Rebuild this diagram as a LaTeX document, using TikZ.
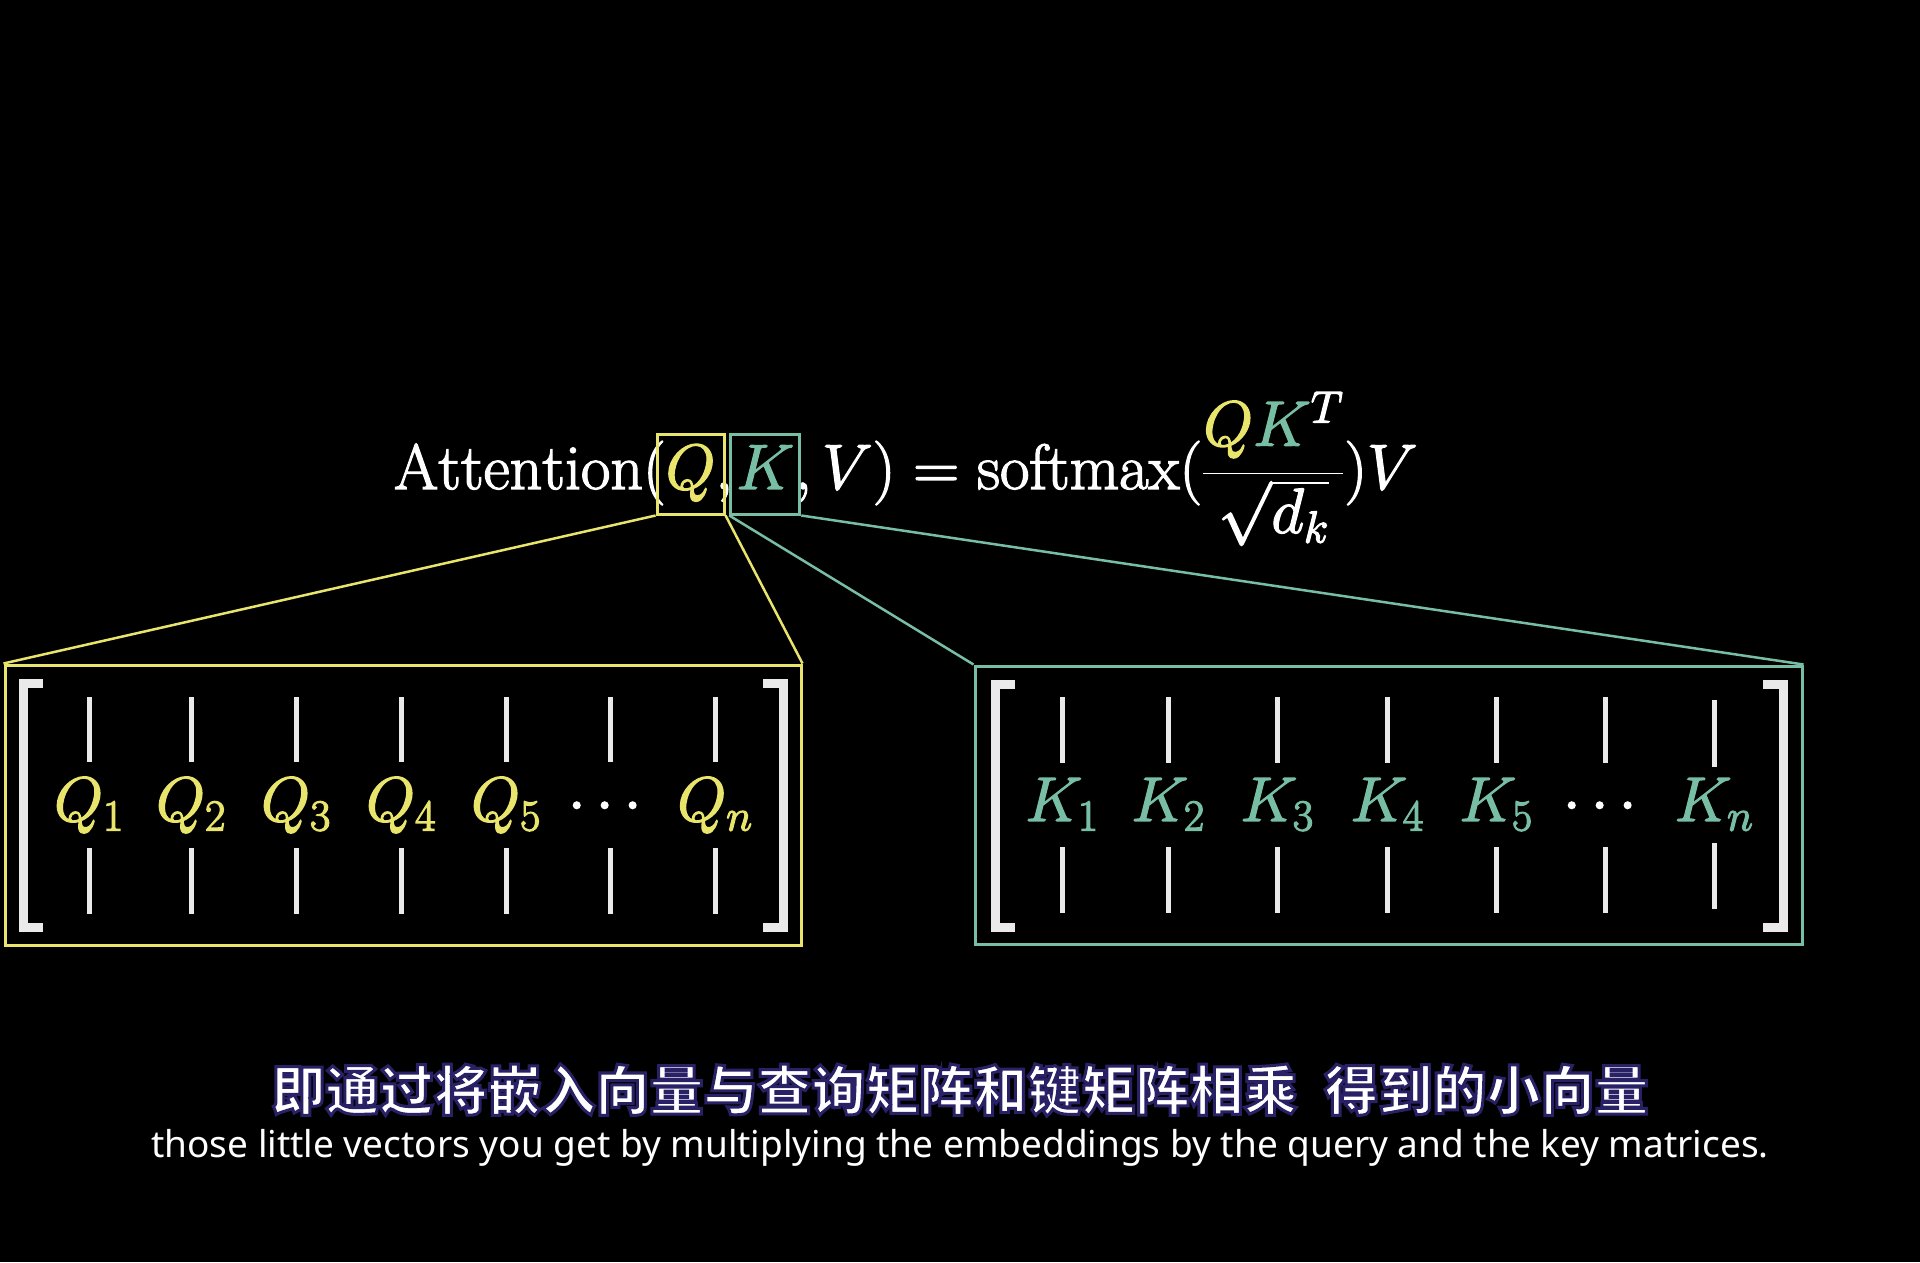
\RequirePackage{fix-cm}
\documentclass[tikz,border=0pt]{standalone}
\usepackage{amsmath}
\usepackage{fontspec}
\newfontfamily\cjkbold{Noto Sans CJK SC Black}
\newfontfamily\subfont{Noto Sans}
\newcommand\thickink{\special{pdf:literal direct 2 Tr 1.3 w}}
\definecolor{qy}{HTML}{E9E46C}
\definecolor{kt}{HTML}{78BEA5}
\definecolor{wbar}{HTML}{EAEAEA}
\tikzset{
  fml/.style={inner sep=0pt, outer sep=0pt, text=white, font=\fontsize{64}{74}\selectfont},
  entry/.style={inner sep=0pt, outer sep=0pt, font=\fontsize{63}{72}\selectfont, anchor=base},
  smallbox/.style={draw, line width=3pt, minimum height=80pt, inner sep=0pt, fill=none},
  bigbox/.style={draw, line width=3pt, inner sep=0pt, fill=none},
  link/.style={line width=2.5pt},
  brk/.style={draw=wbar, line width=9pt, line cap=butt, line join=miter},
  colbar/.style={draw=wbar, line width=5pt}
}
\begin{document}
\begin{tikzpicture}[x=1pt,y=-1pt]
\fill[black] (0,0) rectangle (1920,1262);
\useasboundingbox (0,0) rectangle (1920,1262);

% formula
\node[fml, anchor=base west] (f1) at (394,489) {\thickink$\mathrm{Attention}($};
\node[fml, anchor=base west] (fq) at (f1.base east) {\thickink$\textcolor{qy}{Q}$};
\node[fml, anchor=base west] (f2) at (fq.base east) {\thickink$,\mkern1mu$};
\node[fml, anchor=base west] (fk) at (f2.base east) {\thickink$\textcolor{kt}{K}$};
\node[fml, anchor=base west] (f3) at (fk.base east) {\thickink$,V)=\mathrm{softmax}(\dfrac{\textcolor{qy}{Q}\textcolor{kt}{K}^{T}}{\sqrt{d_k}})V$};

\coordinate (ybox) at (0,474);
\node[smallbox, draw=qy, minimum width=67pt] (qbox) at (fq.center |- ybox) {};
\node[smallbox, draw=kt, minimum width=69pt] (kbox) at (fk.center |- ybox) {};

% matrix frames
\node[bigbox, draw=qy, minimum width=796pt, minimum height=280pt] (qmat) at (403,805) {};
\node[bigbox, draw=kt, minimum width=827pt, minimum height=278pt] (kmat) at (1388.5,805) {};

\draw[link, qy] (qbox.south west) -- (qmat.north west);
\draw[link, qy] (qbox.south east) -- (qmat.north east);
\draw[link, kt] (kbox.south west) -- (kmat.north west);
\draw[link, kt] (kbox.south east) -- (kmat.north east);

% brackets
\draw[brk] (43,683) -- (23,683) -- (23,927) -- (43,927);
\draw[brk] (763,683) -- (783,683) -- (783,927) -- (763,927);
\draw[brk] (1015,684) -- (995,684) -- (995,927) -- (1015,927);
\draw[brk] (1763,684) -- (1783,684) -- (1783,927) -- (1763,927);

% Q entries
\foreach \x/\s [count=\i] in {89/1,191/2,296/3,401/4,506/5} {
  \node[entry, text=qy] (q\i) at (\x,821) {\thickink$Q_{\s}$};
  \draw[colbar] (\x,697) -- (\x,762);
  \draw[colbar] (\x,848) -- (\x,914);
}
\node[entry, text=white] (qdots) at (610,821) {\thickink$\cdots$};
\draw[colbar] (610,697) -- (610,762);
\draw[colbar] (610,848) -- (610,914);
\node[entry, text=qy] (qn) at (715,821) {\thickink$Q_{n}$};
\draw[colbar] (715,697) -- (715,762);
\draw[colbar] (715,848) -- (715,914);

% K entries
\foreach \x/\s [count=\i] in {1062/1,1168/2,1277/3,1387/4,1496/5} {
  \node[entry, text=kt] (k\i) at (\x,821) {\thickink$K_{\s}$};
  \draw[colbar] (\x,697) -- (\x,763);
  \draw[colbar] (\x,847) -- (\x,913);
}
\node[entry, text=white] (kdots) at (1605,821) {\thickink$\cdots$};
\draw[colbar] (1605,697) -- (1605,763);
\draw[colbar] (1605,847) -- (1605,913);
\node[entry, text=kt] (kn) at (1714,821) {\thickink$K_{n}$};
\draw[colbar] (1714,700) -- (1714,767);
\draw[colbar] (1714,843) -- (1714,909);

% subtitles
\node[inner sep=0pt, text=white, font=\cjkbold\fontsize{54}{60}\selectfont] (zh) at (960,1090)
  {\special{pdf:literal direct 2 Tr 3 w 0.16 0.13 0.40 RG}即通过将嵌入向量与查询矩阵和键矩阵相乘\hspace{27pt}得到的小向量\special{pdf:literal direct 0 Tr}};
\node[inner sep=0pt, anchor=base, text=white, font=\subfont\fontsize{37}{40}\selectfont] (en) at (960,1157)
  {those little vectors you get by multiplying the embeddings by the query and the key matrices.};
\end{tikzpicture}
\end{document}
